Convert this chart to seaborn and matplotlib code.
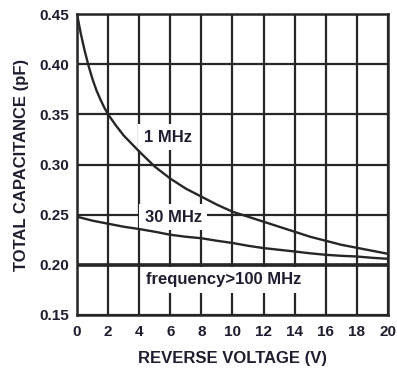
import matplotlib
matplotlib.use("Agg")
import matplotlib.pyplot as plt
import seaborn as sns
import pandas as pd
import numpy as np

# Data
v_1mhz = [0, 0.25, 0.5, 0.75, 1, 1.25, 1.5, 1.75, 2, 2.5, 3, 3.5, 4, 5, 6, 7, 8, 9, 10,
          11, 12, 13, 14, 15, 16, 17, 18, 19, 20]
c_1mhz = [0.450, 0.430, 0.413, 0.398, 0.385, 0.374, 0.365, 0.357, 0.350, 0.339, 0.329, 0.321,
          0.313, 0.298, 0.286, 0.276, 0.268, 0.260, 0.253, 0.248, 0.243, 0.238, 0.233, 0.228,
          0.224, 0.220, 0.217, 0.214, 0.211]
v_30mhz = [0, 1, 2, 3, 4, 5, 6, 7, 8, 9, 10, 11, 12, 13, 14, 15, 16, 17, 18, 19, 20]
c_30mhz = [0.248, 0.244, 0.241, 0.238, 0.2357, 0.233, 0.230, 0.228, 0.2265, 0.224, 0.2218,
           0.219, 0.2167, 0.215, 0.2133, 0.2115, 0.210, 0.209, 0.2083, 0.207, 0.206]
v_100mhz = [0, 20]
c_100mhz = [0.200, 0.200]

x_ticks = list(range(0, 21, 2))
y_ticks = [0.15, 0.20, 0.25, 0.30, 0.35, 0.40, 0.45]
y_tick_labels = ["0.15", "0.20", "0.25", "0.30", "0.35", "0.40", "0.45"]

labels = ["1 MHz", "30 MHz", "frequency>100 MHz"]
label_pos_x = [5.85, 6.2, 9.45]
label_pos_y = [0.327, 0.2473, 0.185]

sns.set_theme(style="white")
plt.rcParams["font.family"] = ["Liberation Sans", "DejaVu Sans"]
plt.rcParams["font.weight"] = "bold"

txt = "#1e1e30"
line_c = "#262626"

fig = plt.figure(figsize=(3.97, 3.71), dpi=100)
ax = fig.add_axes([0.194, 0.151, 0.783, 0.811])

df1 = pd.DataFrame({"V": v_1mhz, "C": c_1mhz})
df2 = pd.DataFrame({"V": v_30mhz, "C": c_30mhz})
df3 = pd.DataFrame({"V": v_100mhz, "C": c_100mhz})

ax.set_xlim(0, 20)
ax.set_ylim(0.15, 0.45)
ax.set_xticks(x_ticks)
ax.set_yticks(y_ticks)
ax.set_yticklabels(y_tick_labels)
ax.grid(True, color=line_c, linewidth=1.6, zorder=1)
ax.set_axisbelow(True)

sns.lineplot(data=df1, x="V", y="C", ax=ax, color=line_c, linewidth=1.7, zorder=3)
sns.lineplot(data=df2, x="V", y="C", ax=ax, color=line_c, linewidth=1.7, zorder=3)
sns.lineplot(data=df3, x="V", y="C", ax=ax, color=line_c, linewidth=2.6, zorder=3)

for s in ax.spines.values():
    s.set_color(line_c)
    s.set_linewidth(1.8)

ax.tick_params(axis="both", length=0, labelsize=11, colors=txt)
ax.tick_params(axis="x", pad=7)
ax.tick_params(axis="y", pad=6)
for lab in ax.get_xticklabels() + ax.get_yticklabels():
    lab.set_fontweight("bold")

ax.set_xlabel("REVERSE VOLTAGE (V)", fontsize=12, fontweight="bold", color=txt, labelpad=9)
ax.set_ylabel("TOTAL CAPACITANCE (pF)", fontsize=12, fontweight="bold", color=txt, labelpad=7)

for t, x, y in zip(labels, label_pos_x, label_pos_y):
    ax.text(x, y, t, ha="center", va="center", fontsize=12, fontweight="bold", color=txt,
            zorder=2, bbox=dict(facecolor="white", edgecolor="none", pad=4))

fig.savefig("out.png", dpi=100)
